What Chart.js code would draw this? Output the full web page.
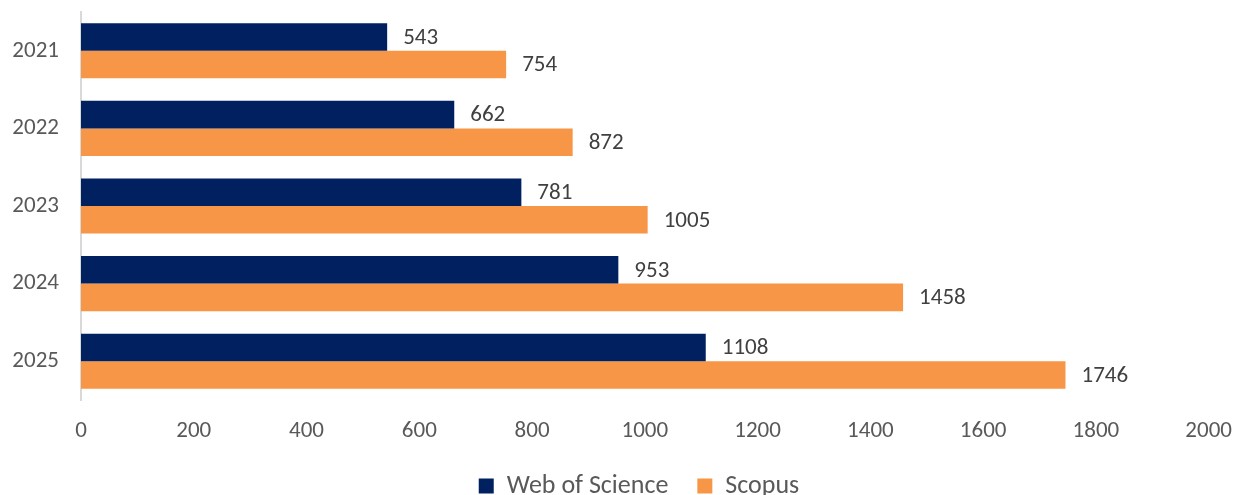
<!DOCTYPE html>
<html>
<head>
<meta charset="utf-8">
<script src="https://cdn.jsdelivr.net/npm/chart.js@4/dist/chart.umd.min.js"></script>
<style>
  html, body { margin: 0; padding: 0; background: #fff; }
  #wrap { width: 1249px; height: 495px; }
</style>
</head>
<body>
<div id="wrap"><canvas id="chart_pubs"></canvas></div>
<script>
const years = ["2021", "2022", "2023", "2024", "2025"];
const wosValues = [543, 662, 781, 953, 1108];
const scopusValues = [754, 872, 1005, 1458, 1746];
const seriesNames = ["Web of Science", "Scopus"];

const FONT = "Carlito, Calibri, Lato, sans-serif";

// draws the number just past the end of every bar
const barValueLabels = {
  id: "barValueLabels",
  afterDatasetsDraw(chart) {
    const ctx = chart.ctx;
    ctx.save();
    ctx.font = "23px " + FONT;
    ctx.fillStyle = "#404040";
    ctx.textAlign = "left";
    ctx.textBaseline = "middle";
    chart.data.datasets.forEach((ds, i) => {
      chart.getDatasetMeta(i).data.forEach((bar, j) => {
        ctx.fillText(String(ds.data[j]), bar.x + 16, bar.y + 1);
      });
    });
    ctx.restore();
  },
};

// legend is centred on the plot area rather than the whole canvas
const legendNudge = {
  id: "legendNudge",
  afterLayout(chart) {
    chart.legend.left += 27;
    chart.legend.right += 27;
    chart.legend.top += 2;
    chart.legend.bottom += 2;
  },
};

var ctx = document.getElementById("chart_pubs").getContext("2d");
var myChart = new Chart(ctx, {
  type: "bar",
  data: {
    labels: years,
    datasets: [
      {
        label: seriesNames[0],
        data: wosValues,
        backgroundColor: "#002060",
        borderWidth: 0,
        barPercentage: 1,
        categoryPercentage: 0.71,
      },
      {
        label: seriesNames[1],
        data: scopusValues,
        backgroundColor: "#F79646",
        borderWidth: 0,
        barPercentage: 1,
        categoryPercentage: 0.71,
      },
    ],
  },
  options: {
    indexAxis: "y",
    animation: false,
    responsive: true,
    maintainAspectRatio: false,
    layout: {
      // legend runs off the bottom edge, like in the original
      padding: { top: 12, right: 25, left: 0, bottom: -12 },
    },
    plugins: {
      legend: {
        display: true,
        position: "bottom",
        labels: {
          font: { family: FONT, size: 26 },
          color: "#595959",
          boxWidth: 15,
          boxHeight: 15,
          padding: 29,
        },
      },
      tooltip: { enabled: false },
    },
    scales: {
      x: {
        min: 0,
        max: 2000,
        ticks: {
          stepSize: 200,
          font: { family: FONT, size: 23 },
          color: "#595959",
          padding: 17,
          callback: function (value) {
            return String(value);
          },
        },
        grid: { display: false, drawTicks: false },
        border: { display: false },
        afterFit: function (scale) {
          scale.height = 42;
        },
      },
      y: {
        ticks: {
          font: { family: FONT, size: 23 },
          color: "#595959",
          padding: 22,
        },
        grid: { display: false, drawTicks: false },
        border: { display: true, color: "#d9d9d9", width: 2 },
        afterFit: function (scale) {
          scale.width = 81;
          scale.paddingTop = 0;
          scale.paddingBottom = 0;
        },
      },
    },
  },
  plugins: [barValueLabels, legendNudge],
});
</script>
</body>
</html>
